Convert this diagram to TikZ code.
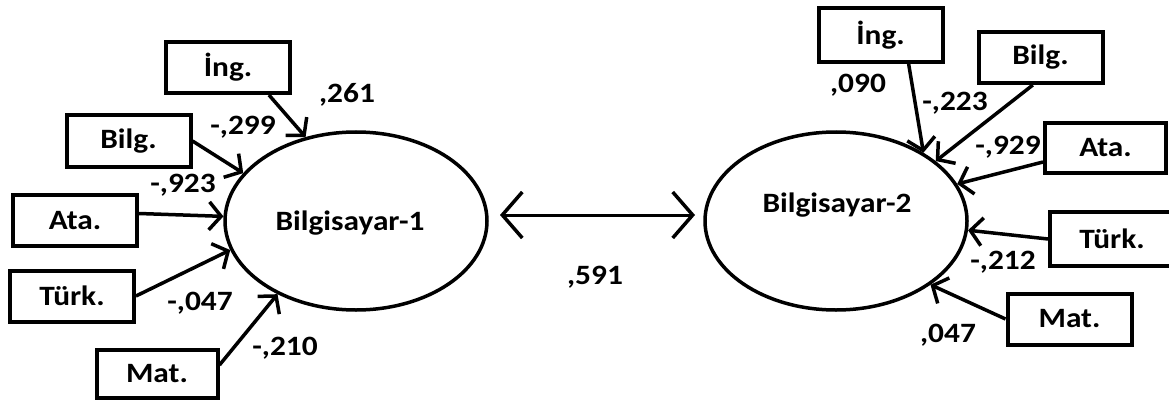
\documentclass[tikz,border=0pt]{standalone}
\usepackage{fontspec}
\setmainfont[FakeStretch=1.12]{Carlito}
\usetikzlibrary{arrows.meta,calc,shapes.geometric}
\begin{document}
\begin{tikzpicture}[x=1pt,y=-1pt,
  font=\fontsize{28}{31}\selectfont\bfseries,
  box/.style={draw,line width=4pt,minimum width=124pt,minimum height=51pt,inner sep=0pt},
  latent/.style={draw,ellipse,line width=3.5pt,minimum width=262pt,minimum height=178pt,inner sep=0pt},
  coef/.style={fill=white,inner sep=1pt},
  path/.style={line width=3.5pt,-{Straight Barb[length=12pt,width=28pt,line width=3.5pt]}},
  dbl/.style={line width=3pt,{Straight Barb[length=20pt,width=46pt,line width=3.5pt]}-{Straight Barb[length=20pt,width=46pt,line width=3.5pt]}}]
\useasboundingbox (0,0) rectangle (1169,401);
% latent variables
\node[latent] (e1) at (356,221) {};
\node[latent] (e2) at (836,221) {};
\node (t1) at (350,223) {Bilgisayar-1};
\node (t2) at (837,205) {Bilgisayar-2};
% left boxes
\node[box] (ing1) at (228,67.5) {İng.};
\node[box] (bilg1) at (128.5,141) {Bilg.};
\node[box] (ata1) at (75,220.5) {Ata.};
\node[box] (turk1) at (72,296) {Türk.};
\node[box,minimum width=121pt,minimum height=48pt] (mat1) at (157,374) {Mat.};
% right boxes
\node[box,minimum height=54pt] (ing2) at (880.5,35) {İng.};
\node[box] (bilg2) at (1040.5,57.5) {Bilg.};
\node[box,minimum width=121pt,minimum height=50pt] (ata2) at (1105.5,148) {Ata.};
\node[box,minimum height=54pt] (turk2) at (1112,239) {Türk.};
\node[box] (mat2) at (1069.5,319) {Mat.};
% left paths
\draw[path] ($(ing1.south west)!0.82!(ing1.south east)$) -- (e1.121);
\draw[path] (bilg1.east) -- (e1.157);
\draw[path] ([yshift=7pt]ata1.east) -- (e1.178);
\draw[path] (turk1.east) -- (e1.193);
\draw[path] ([yshift=9pt]mat1.east) -- (e1.223);
% right paths
\draw[path] ($(ing2.south west)!0.72!(ing2.south east)$) -- (e2.38);
\draw[path] ($(bilg2.south west)!0.44!(bilg2.south east)$) -- (e2.31);
\draw[path] ([yshift=-14pt]ata2.west) -- (e2.17);
\draw[path] (turk2.west) -- (e2.-4);
\draw[path] (mat2.west) -- (e2.-34);
% correlation
\coordinate (c1) at (500,215);
\coordinate (c2) at (695,215);
\draw[dbl] (c1) -- (c2);
% coefficients
\node[coef] (l1) at (347,95) {,261};
\node[coef] (l2) at (243,127) {-,299};
\node[coef] (l3) at (183,185) {-,923};
\node[coef] (l4) at (200,303) {-,047};
\node[coef] (l5) at (285,348) {-,210};
\node[coef] (r1) at (858,85) {,090};
\node[coef] (r2) at (955,103) {-,223};
\node[coef] (r3) at (1008,147) {-,929};
\node[coef] (r4) at (1003,262) {-,212};
\node[coef] (r5) at (948,335) {,047};
\node[coef] (cr) at (595,277) {,591};
\end{tikzpicture}
\end{document}
